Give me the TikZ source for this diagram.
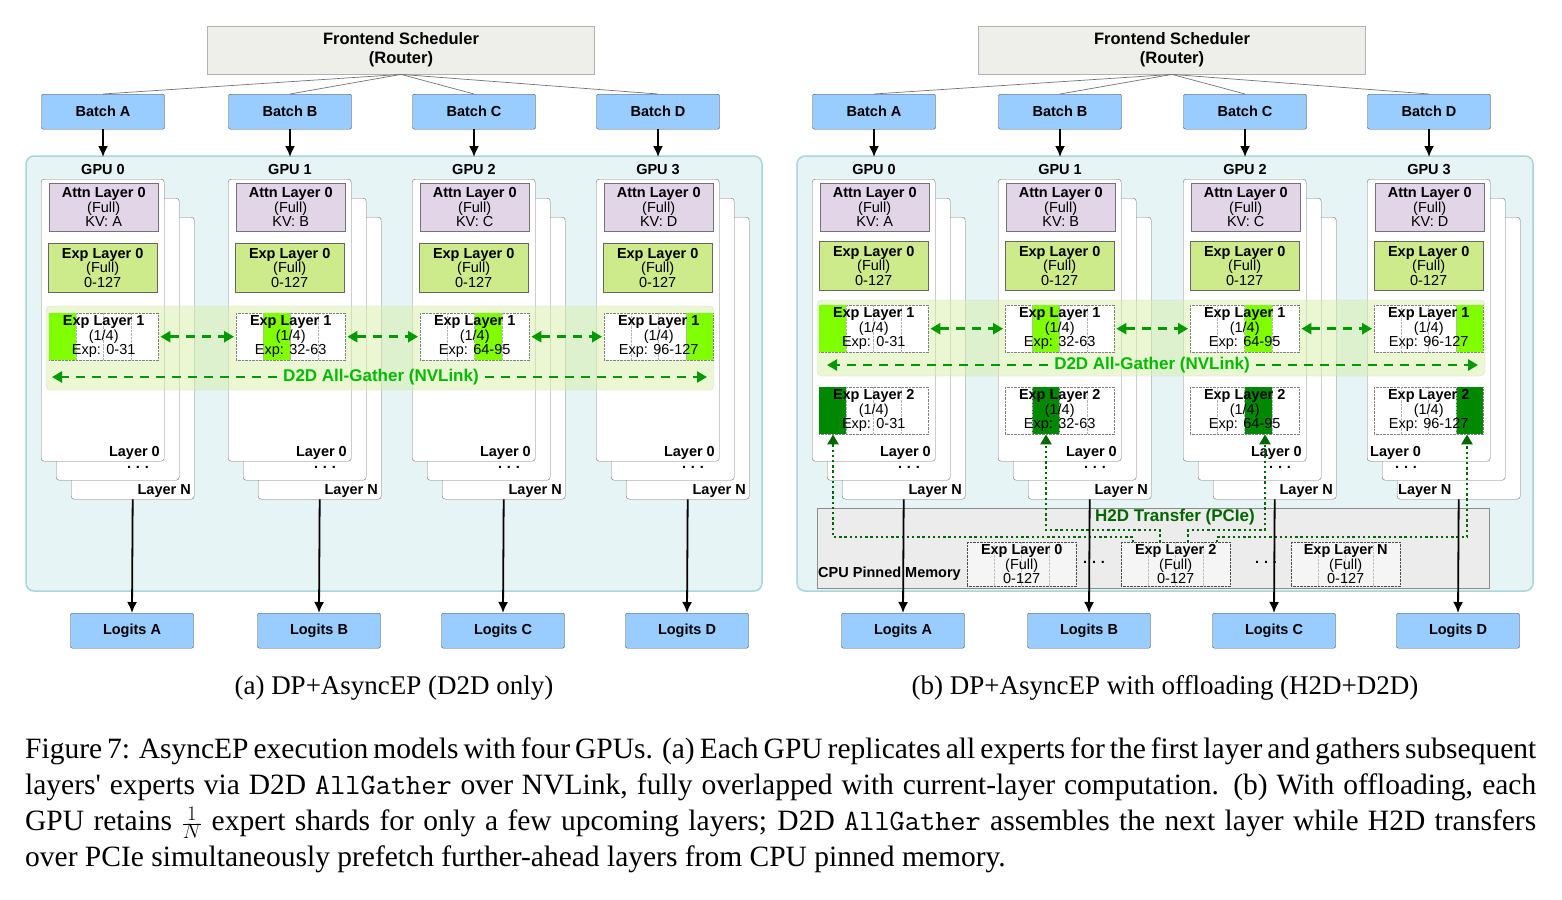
\documentclass[tikz,border=0pt]{standalone}
\usepackage{fontspec}
\setmainfont{Liberation Sans}
\newfontfamily\capfont{Liberation Serif}
\usetikzlibrary{arrows.meta,calc}
\definecolor{frameF}{HTML}{E6F4F5}
\definecolor{frameD}{HTML}{A9D6D9}
\definecolor{batchF}{HTML}{99CCFF}
\definecolor{attnF}{HTML}{E1D5E7}
\definecolor{expF}{HTML}{CDEB8B}
\definecolor{lime}{HTML}{80FF00}
\definecolor{dkg}{HTML}{008800}
\definecolor{arrG}{HTML}{009900}
\definecolor{txtG}{HTML}{00BB00}
\definecolor{h2d}{HTML}{006600}
\definecolor{bandF}{HTML}{D8F0A8}
\definecolor{schedF}{HTML}{EEEEEA}
\definecolor{cpuF}{HTML}{ECECEC}
\tikzset{
  f13/.style={font=\fontsize{14.5}{14.5}\selectfont},
  blue box/.style={draw=black!70,fill=batchF,rounded corners=2pt,minimum width=123pt,minimum height=35pt,font=\bfseries\fontsize{14.5}{15}\selectfont,anchor=north},
  card/.style={draw=black!55,fill=white,rounded corners=3pt,minimum width=123pt,minimum height=282pt,anchor=north west,inner sep=0pt},
  attn/.style={draw=black!55,fill=attnF,minimum width=109pt,minimum height=48pt,anchor=north west,inner sep=0pt,align=center,f13},
  exp0/.style={draw=black!60,fill=expF,minimum width=109pt,minimum height=49pt,anchor=north west,inner sep=0pt,align=center,f13},
  shard/.style={draw=black!50,densely dotted,fill=white,minimum width=109pt,minimum height=47pt,anchor=north west,inner sep=0pt},
  blk/.style={line width=1.8pt,-{Latex[length=11pt,width=10pt]}},
  d2d/.style={draw=arrG,line width=2.8pt,dash pattern=on 9pt off 7pt},
  tipG/.style={-{Triangle[length=10pt,width=11pt]}},
  h2dl/.style={draw=h2d,line width=2.4pt,dash pattern=on 2.4pt off 2.8pt},
  lbl/.style={font=\bfseries\fontsize{14.5}{15}\selectfont,inner sep=0pt},
  gtxt/.style={font=\bfseries\fontsize{17}{18}\selectfont,inner sep=6pt},
}
\newcommand{\shardbox}[6]{% name, x, y, fill, quarter, text
  \node[shard] (#1) at (#2,#3) {};
  \fill[#4] ($(#1.north west)+({(#5-1)*27.25pt},0)$) rectangle ($(#1.south west)+({#5*27.25pt},0)$);
  \foreach \q in {1,2,3}{\draw[black!30,densely dotted] ($(#1.north west)+({\q*27.25pt},0)$) -- ($(#1.south west)+({\q*27.25pt},0)$);}
  \node[f13,align=center,inner sep=0pt] at (#1.center) {#6};
}
\begin{document}
\begin{tikzpicture}[x=1pt,y=-1pt]
\useasboundingbox (0,0) rectangle (1562,899);
% ---------- panel frames ----------
\foreach \P/\dx in {a/0,b/771}{
  \fill[frameF,draw=frameD,line width=1.5pt,rounded corners=8pt] (26+\dx,156) rectangle (762+\dx,591);
  \node[draw=black!30,fill=schedF,minimum width=387pt,minimum height=48pt,anchor=north,align=center,font=\bfseries\fontsize{16.5}{19}\selectfont] (sch\P) at (401+\dx,26) {Frontend Scheduler\\(Router)};
}
% ---------- columns ----------
\foreach \P/\X/\L/\i in {a/41/A/0,a/228/B/1,a/412/C/2,a/596/D/3,
                         b/812/A/0,b/998/B/1,b/1183/C/2,b/1367/D/3}{
  \node[blue box] (bat\P\i) at (\X+62,94) {Batch \L};
  \draw[black!55,line width=0.7pt] (sch\P.south) -- (bat\P\i.north);
  \coordinate (in\P\i) at (\X+62,157);
  \draw[blk] (bat\P\i.south) -- (in\P\i);
  \node[lbl] at (\X+62,170) {GPU \i};
  \node[card] (cc\P\i) at (\X+30,217) {};
  \node[card] (cb\P\i) at (\X+15,198) {};
  \node[card] (ca\P\i) at (\X,179) {};
  \node[attn] (at\P\i) at (\X+8,183) {\textbf{Attn Layer 0}\\(Full)\\KV: \L};
  \node[blue box] (log\P\i) at (\X+91,613) {Logits \L};
}
\foreach \X in {41,228,412,596}{
  \node[exp0] at (\X+7,243) {\textbf{Exp Layer 0}\\(Full)\\0-127};
  \node[lbl,anchor=east] at (\X+119,453) {Layer 0};
  \node[lbl] at (\X+97,467) {.\,\,.\,\,.};
  \node[lbl,anchor=east] at (\X+150,491) {Layer N};
}
\foreach \X in {812,998,1183,1367}{
  \node[exp0] at (\X+7,241) {\textbf{Exp Layer 0}\\(Full)\\0-127};
}
\foreach \X in {812,998,1183}{
  \node[lbl,anchor=east] at (\X+119,453) {Layer 0};
  \node[lbl] at (\X+97,467) {.\,\,.\,\,.};
  \node[lbl,anchor=east] at (\X+150,491) {Layer N};
}
\node[lbl,anchor=west] at (1370,453) {Layer 0};
\node[lbl] at (1406,467) {.\,\,.\,\,.};
\node[lbl,anchor=west] at (1398,491) {Layer N};
% ---------- bands ----------
\fill[bandF,fill opacity=0.5,draw=black!15,rounded corners=5pt] (46,306) rectangle (714,390);
\fill[bandF,fill opacity=0.5,draw=black!15,rounded corners=5pt] (817,300) rectangle (1485,376);
\foreach \X/\i/\lo/\hi in {41/0/0/31,228/1/32/63,412/2/64/95,596/3/96/127}{
  \pgfmathtruncatemacro{\qq}{\i+1}
  \shardbox{sa\i}{\X+8}{313}{lime}{\qq}{\textbf{Exp Layer 1}\\(1/4)\\Exp: \lo-\hi}
}
\foreach \X/\i/\lo/\hi in {812/0/0/31,998/1/32/63,1183/2/64/95,1367/3/96/127}{
  \pgfmathtruncatemacro{\qq}{\i+1}
  \shardbox{sb\i}{\X+7}{305}{lime}{\qq}{\textbf{Exp Layer 1}\\(1/4)\\Exp: \lo-\hi}
  \shardbox{sc\i}{\X+7}{387}{dkg}{\qq}{\textbf{Exp Layer 2}\\(1/4)\\Exp: \lo-\hi}
}
\foreach \P in {a,b}{
  \foreach \j/\k in {0/1,1/2,2/3}{
    \draw[d2d,{Triangle[length=10pt,width=11pt]}-{Triangle[length=10pt,width=11pt]}] ([xshift=2pt]s\P\j.east) -- ([xshift=-2pt]s\P\k.west);
  }
}
\node[gtxt,text=txtG] (ga) at (381,377) {D2D All-Gather (NVLink)};
\coordinate (gal) at (52,377); \coordinate (gar) at (707,377);
\draw[d2d,tipG] (ga.west) -- (gal);
\draw[d2d,tipG] (ga.east) -- (gar);
\node[gtxt,text=txtG] (gb) at (1152,365) {D2D All-Gather (NVLink)};
\coordinate (gbl) at (827,365); \coordinate (gbr) at (1478,365);
\draw[d2d,tipG] (gb.west) -- (gbl);
\draw[d2d,tipG] (gb.east) -- (gbr);
% ---------- CPU pinned memory ----------
\node[draw=black!45,fill=cpuF,minimum width=672pt,minimum height=80pt,anchor=north west] (cpu) at (817,508) {};
\node[gtxt,inner sep=0pt,text=h2d] at (1175,517) {H2D Transfer (PCIe)};
\node[lbl,anchor=west] at (818,574) {CPU Pinned Memory};
\foreach \n/\x/\t in {e0/967/0,e2/1121/2,eN/1291/N}{
  \node[draw=black!70,densely dotted,fill=white!96!black,minimum width=109pt,minimum height=44pt,anchor=north west,inner sep=0pt] (\n) at (\x,542) {};
  \foreach \q in {1,2,3}{\draw[black!25,densely dotted] ($(\n.north west)+({\q*27.25pt},0)$) -- ($(\n.south west)+({\q*27.25pt},0)$);}
  \node[f13,align=center,inner sep=0pt] at (\n.center) {\textbf{Exp Layer \t}\\(Full)\\0-127};
}
\node[lbl] at (1094,562) {.\,\,.\,\,.};
\node[lbl] at (1266,562) {.\,\,.\,\,.};
\draw[h2dl,tipG] ($(e2.north west)+(12,0)$) |- (833,537) -- (sc0.south -| 833,0);
\draw[h2dl,tipG] ($(e2.north west)+(39,0)$) |- (1046,530) -- (sc1.south -| 1046,0);
\draw[h2dl,tipG] ($(e2.north west)+(67,0)$) |- (1265,530) -- (sc2.south -| 1265,0);
\draw[h2dl,tipG] ($(e2.north west)+(96,0)$) |- (1467,537) -- (sc3.south -| 1467,0);
\foreach \P in {a,b}{\foreach \i in {0,1,2,3}{
  \draw[blk] (cc\P\i.south) -- (log\P\i.north);
}}
% ---------- captions ----------
\node[font=\capfont\fontsize{27}{29}\selectfont,anchor=base] at (394,694) {(a) DP+AsyncEP (D2D only)};
\node[font=\capfont\fontsize{27}{29}\selectfont,anchor=base] at (1165,694) {(b) DP+AsyncEP with offloading (H2D+D2D)};
\begin{scope}[every node/.style={anchor=base west,inner sep=0pt,font=\capfont\fontsize{29.5}{31}\selectfont}]
\node at (25,758) {\makebox[1511pt][s]{Figure 7: AsyncEP execution models with four GPUs. (a) Each GPU replicates all experts for the first layer and gathers subsequent}};
\node at (25,794) {\makebox[1511pt][s]{layers' experts via D2D {\ttfamily AllGather} over NVLink, fully overlapped with current-layer computation. (b) With offloading, each}};
\node at (25,830) {\makebox[1511pt][s]{GPU retains $\frac{1}{N}$ expert shards for only a few upcoming layers; D2D {\ttfamily AllGather} assembles the next layer while H2D transfers}};
\node at (25,866) {over PCIe simultaneously prefetch further-ahead layers from CPU pinned memory.};
\end{scope}
\end{tikzpicture}
\end{document}
